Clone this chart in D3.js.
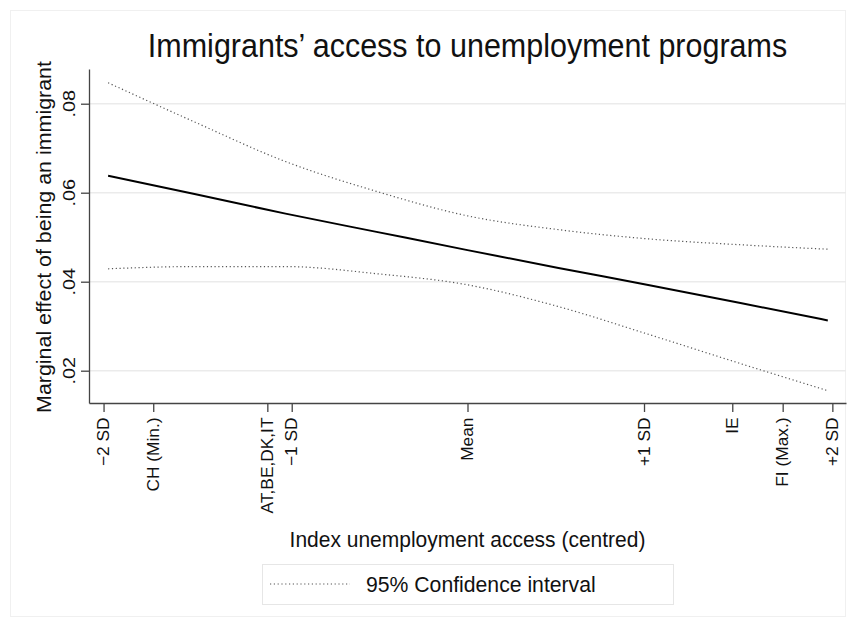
<!DOCTYPE html>
<html>
<head>
<meta charset="utf-8">
<script src="https://cdn.jsdelivr.net/npm/d3@7/dist/d3.min.js"></script>
<style>
  html, body { margin: 0; padding: 0; background: #fff; }
  svg { display: block; }
  text { font-family: "Liberation Sans", Arial, Helvetica, sans-serif; fill: #111; }
</style>
</head>
<body>
<svg id="chart" width="856" height="627"></svg>
<script>
// Index values (centred, SD units) at which the marginal effect is evaluated
const indexPoints = [-1.975, -1.5, -1.0, -0.5, 0, 0.5, 1.0, 1.5, 1.98];
// Marginal effect of being an immigrant
const marginalEffect = [0.0638, 0.0597, 0.0553, 0.0512, 0.0471, 0.0431, 0.0392, 0.0352, 0.0313];
// 95% confidence bounds
const ciUpper = [0.0847, 0.0759, 0.0670, 0.0603, 0.0548, 0.0517, 0.0496, 0.0483, 0.0473];
const ciLower = [0.0429, 0.0434, 0.0434, 0.0418, 0.0393, 0.0344, 0.0281, 0.0216, 0.0155];

// Y axis ticks
const yTickValues = [0.02, 0.04, 0.06, 0.08];
const yTickLabels = [".02", ".04", ".06", ".08"];

// X axis ticks: SD markers and country positions
const xTickValues = [-2.0, -1.727, -1.10, -0.966, 0, 0.97, 1.455, 1.732, 2.005];
const xTickLabels = ["\u22122 SD", "CH (Min.)", "AT,BE,DK,IT", "\u22121 SD", "Mean", "+1 SD", "IE", "FI (Max.)", "+2 SD"];

const svg = d3.select("#chart");

// faint outer frame of the graph region
svg.append("rect")
  .attr("x", 10.5).attr("y", 10.5).attr("width", 835).attr("height", 606)
  .attr("fill", "none").attr("stroke", "#f0f0f0").attr("stroke-width", 1);

const plotLeft = 89, plotRight = 846, plotTop = 69, plotBottom = 403;

const x = d3.scaleLinear().domain([-2.08, 2.08]).range([plotLeft, plotRight]);
const y = d3.scaleLinear().domain([0.01274, 0.0878]).range([plotBottom, plotTop]);

// horizontal grid lines
svg.append("g").selectAll("line").data(yTickValues).join("line")
  .attr("x1", plotLeft).attr("x2", plotRight)
  .attr("y1", d => y(d)).attr("y2", d => y(d))
  .attr("stroke", "#ebebeb").attr("stroke-width", 1.5);

// y axis
const yAxis = svg.append("g").attr("transform", `translate(${plotLeft},0)`)
  .call(d3.axisLeft(y).tickValues(yTickValues).tickSize(8).tickSizeOuter(0).tickFormat(""));
yAxis.select(".domain").attr("stroke", "#444").attr("stroke-width", 1.3);
yAxis.selectAll(".tick line").attr("stroke", "#444").attr("stroke-width", 1.3);

// tick labels are drawn slightly elongated along their reading direction
svg.append("g").selectAll("text").data(yTickValues).join("text")
  .attr("transform", d => `translate(74.5,${y(d)}) rotate(-90) scale(1.2,1)`)
  .attr("text-anchor", "middle")
  .attr("font-size", 16.5)
  .text((d, i) => yTickLabels[i]);

// x axis
const xAxis = svg.append("g").attr("transform", `translate(0,${plotBottom})`)
  .call(d3.axisBottom(x).tickValues(xTickValues).tickSize(9).tickSizeOuter(0).tickFormat(""));
xAxis.select(".domain").attr("stroke", "#444").attr("stroke-width", 1.3);
xAxis.selectAll(".tick line").attr("stroke", "#444").attr("stroke-width", 1.3);

svg.append("g").selectAll("text").data(xTickValues).join("text")
  .attr("transform", d => `translate(${x(d)},417.5) rotate(-90) scale(1.05,1)`)
  .attr("text-anchor", "end")
  .attr("dy", "0.35em")
  .attr("font-size", 16.5)
  .text((d, i) => xTickLabels[i]);

// confidence interval bounds (dotted)
const ciLine = vals => d3.line()
  .x((d, i) => x(indexPoints[i]))
  .y(d => y(d))
  .curve(d3.curveMonotoneX)(vals);

[ciUpper, ciLower].forEach(vals => {
  svg.append("path")
    .attr("d", ciLine(vals))
    .attr("fill", "none")
    .attr("stroke", "#555")
    .attr("stroke-width", 1.2)
    .attr("stroke-dasharray", "1.2,2.6");
});

// marginal effect line
svg.append("path")
  .attr("d", d3.line().x((d, i) => x(indexPoints[i])).y(d => y(d)).curve(d3.curveMonotoneX)(marginalEffect))
  .attr("fill", "none")
  .attr("stroke", "#000")
  .attr("stroke-width", 2);

// titles
svg.append("text")
  .attr("transform", `translate(${(plotLeft + plotRight) / 2},57) scale(1,1.1)`)
  .attr("text-anchor", "middle").attr("font-size", 30.5)
  .text("Immigrants\u2019 access to unemployment programs");

svg.append("text")
  .attr("transform", `translate(50.5,${(plotTop + plotBottom) / 2 + 1}) rotate(-90) scale(1.02,1)`)
  .attr("text-anchor", "middle").attr("font-size", 21)
  .text("Marginal effect of being an immigrant");

svg.append("text")
  .attr("transform", `translate(${(plotLeft + plotRight) / 2},547) scale(1,1.08)`)
  .attr("text-anchor", "middle").attr("font-size", 21)
  .text("Index unemployment access (centred)");

// legend
const legend = svg.append("g");
legend.append("rect")
  .attr("x", 262.5).attr("y", 564.5).attr("width", 411).attr("height", 40)
  .attr("fill", "#fff").attr("stroke", "#e6e6e6").attr("stroke-width", 1);
legend.append("line")
  .attr("x1", 270).attr("x2", 350).attr("y1", 584).attr("y2", 584)
  .attr("stroke", "#555").attr("stroke-width", 1.2).attr("stroke-dasharray", "1.2,2.6");
legend.append("text")
  .attr("transform", "translate(366,591.5) scale(1.01,1.08)")
  .attr("font-size", 21)
  .text("95% Confidence interval");
</script>
</body>
</html>
